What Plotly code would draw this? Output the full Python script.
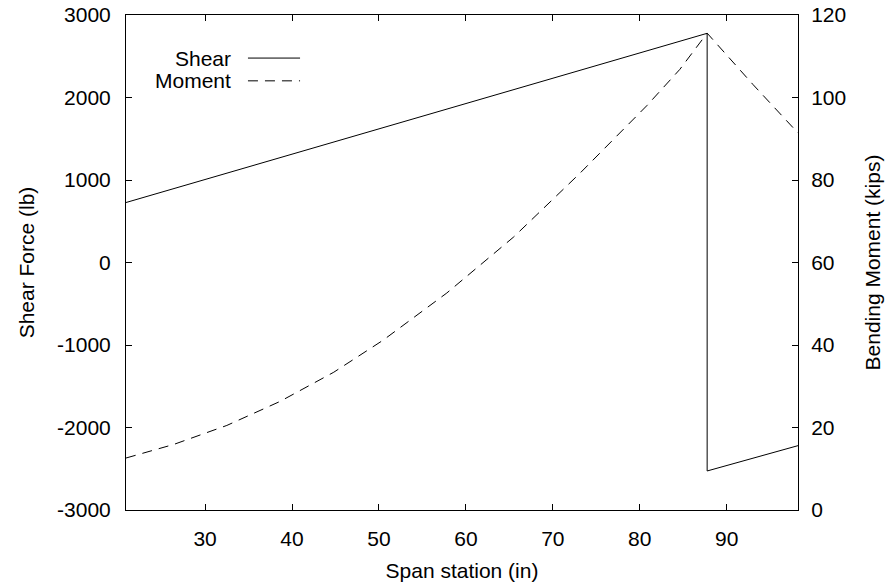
import plotly.graph_objects as go

# Data
span_shear = [20.9, 87.75, 87.75, 98.2]
shear = [727, 2778, -2527, -2220]

span_moment = [20.9, 26.4, 32.5, 38.6, 44.8, 50.5, 57.8, 65.5, 73.1, 80.8, 84.6, 87.75, 93.0, 98.2]
moment = [12.6, 15.9, 20.5, 26.3, 33.4, 41.2, 52.6, 66.2, 81.6, 98.0, 106.8, 115.6, 103.2, 91.4]

x_ticks = [30, 40, 50, 60, 70, 80, 90]
y_ticks = [-3000, -2000, -1000, 0, 1000, 2000, 3000]
y_labels = ["-3000", "-2000", "-1000", "0", "1000", "2000", "3000"]
y2_ticks = [0, 20, 40, 60, 80, 100, 120]

FONT = "Liberation Sans, Arial, Helvetica, sans-serif"
FS = 21
DASH = "10px,7px"

fig = go.Figure()
fig.add_trace(go.Scatter(x=span_shear, y=shear, mode="lines", name="Shear",
                         line=dict(color="black", width=1), showlegend=False))
fig.add_trace(go.Scatter(x=span_moment, y=moment, mode="lines", name="Moment", yaxis="y2",
                         line=dict(color="black", width=1, dash=DASH), showlegend=False))

axis_common = dict(showgrid=False, zeroline=False, ticks="inside", ticklen=6,
                   tickcolor="black", showline=True, linecolor="black", linewidth=1,
                   automargin=False,
                   tickfont=dict(family=FONT, size=FS, color="black"))

fig.update_layout(
    width=890, height=586,
    margin=dict(l=126, r=92, t=15, b=76),
    paper_bgcolor="white", plot_bgcolor="white",
    font=dict(family=FONT, size=FS, color="black"),
    xaxis=dict(range=[20.9, 98.2], tickvals=x_ticks, mirror="ticks",
               title=dict(text="Span station (in)", standoff=14,
                          font=dict(family=FONT, size=FS, color="black")),
               ticklabelstandoff=10, **axis_common),
    yaxis=dict(range=[-3000, 3000], tickvals=y_ticks, ticktext=y_labels,
               title=dict(text="Shear Force (lb)", standoff=16,
                          font=dict(family=FONT, size=FS, color="black")),
               ticklabelstandoff=10, **axis_common),
    yaxis2=dict(range=[0, 120], tickvals=y2_ticks, overlaying="y", side="right",
                title=dict(text="Bending Moment (kips)", standoff=20,
                           font=dict(family=FONT, size=FS, color="black")),
                ticklabelstandoff=8, **axis_common),
)

# gnuplot-style key: text on the left, line sample on the right
legend_items = [("Shear", None, 0.913), ("Moment", DASH, 0.867)]
for label, dash, yy in legend_items:
    fig.add_annotation(x=0.159, y=yy, xref="paper", yref="paper", text=label,
                       showarrow=False, xanchor="right", yanchor="middle",
                       font=dict(family=FONT, size=FS, color="black"))
    fig.add_shape(type="line", xref="paper", yref="paper", x0=0.1815, x1=0.259,
                  y0=yy, y1=yy, line=dict(color="black", width=1, dash=dash))

fig.write_html("out.html")
